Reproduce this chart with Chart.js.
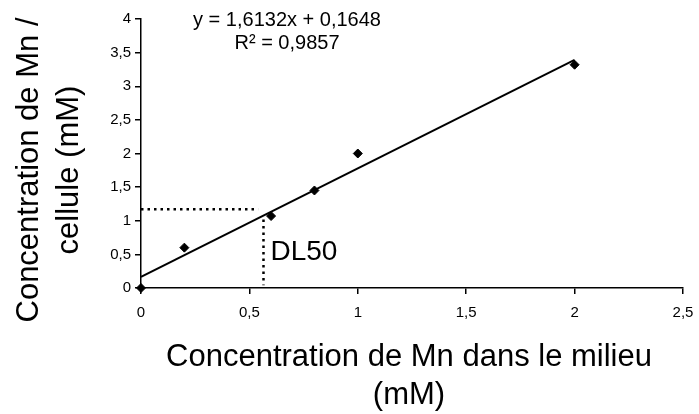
<!DOCTYPE html>
<html>
<head>
<meta charset="utf-8">
<script src="https://cdn.jsdelivr.net/npm/chart.js@4/dist/chart.umd.min.js"></script>
<style>
  body { margin: 0; background: #fff; }
  canvas { display: block; }
</style>
</head>
<body>
<canvas id="myChart" width="699" height="414"></canvas>
<script>
// measured points
let mnMedium = [0, 0.2, 0.6, 0.8, 1, 2];
let mnCell = [0, 0.6, 1.07, 1.45, 2.0, 3.32];

// trend line y = 1,6132x + 0,1648 (ends at x = 2)
let trendX = [0, 2];
let trendY = [0.1648, 3.3912];

// DL50 guide lines
let dl50X = [0, 0.54];
let dl50Y = [1.17, 1.17];
let dl50VX = [0.565, 0.565];
let dl50VY = [1.02, 0.04];

let equationText = "y = 1,6132x + 0,1648";
let r2Text = "R² = 0,9857";
let dl50Text = "DL50";
let xTitle = ["Concentration de Mn dans le milieu", "(mM)"];
let yTitle = ["Concentration de Mn /", "cellule (mM)"];

let font = '"Liberation Sans", Arial, sans-serif';

function pts(xs, ys) {
  return xs.map((v, i) => ({ x: v, y: ys[i] }));
}

function comma(v) {
  return String(v).replace(".", ",");
}

let annotate = {
  id: "annotate",
  afterDraw(chart) {
    let ctx = chart.ctx;
    let x = chart.scales.x;
    ctx.save();
    ctx.fillStyle = "#000";
    ctx.textAlign = "center";
    ctx.textBaseline = "alphabetic";

    ctx.font = "20px " + font;
    ctx.fillText(equationText, 287, 26);
    ctx.fillText(r2Text, 287, 49);

    ctx.textAlign = "left";
    ctx.font = "28px " + font;
    ctx.fillText(dl50Text, x.getPixelForValue(dl50VX[0]) + 7, 260);

    ctx.textAlign = "center";
    ctx.font = "31px " + font;
    let cx = (chart.chartArea.left + chart.chartArea.right) / 2;
    ctx.fillText(xTitle[0], cx - 3, 366);
    ctx.fillText(xTitle[1], cx - 3, 404);

    ctx.translate(0, 170);
    ctx.rotate(-Math.PI / 2);
    ctx.fillText(yTitle[0], 0, 38);
    ctx.fillText(yTitle[1], 0, 78);
    ctx.restore();
  },
};

let axisStyle = {
  type: "linear",
  ticks: {
    stepSize: 0.5,
    color: "#000",
    font: { family: font, size: 15 },
    callback: (v) => comma(v),
  },
  grid: {
    drawOnChartArea: false,
    drawTicks: true,
    tickLength: 6,
    color: "#000",
    lineWidth: 1.5,
  },
  border: { display: true, color: "#000", width: 1.5 },
};

let chart = new Chart(document.getElementById("myChart"), {
  type: "scatter",
  data: {
    datasets: [
      {
        data: pts(trendX, trendY),
        showLine: true,
        borderColor: "#000",
        borderWidth: 2,
        pointRadius: 0,
      },
      {
        data: pts(dl50X, dl50Y),
        showLine: true,
        borderColor: "#000",
        borderWidth: 2.5,
        borderDash: [2.5, 4],
        pointRadius: 0,
      },
      {
        data: pts(dl50VX, dl50VY),
        showLine: true,
        borderColor: "#000",
        borderWidth: 2.5,
        borderDash: [2.5, 4],
        pointRadius: 0,
      },
      {
        data: pts(mnMedium, mnCell),
        showLine: false,
        pointStyle: "rectRot",
        pointRadius: 4.5,
        backgroundColor: "#000",
        borderColor: "#000",
        clip: false,
      },
    ],
  },
  options: {
    responsive: false,
    animation: false,
    devicePixelRatio: 1,
    layout: { padding: { left: 0, right: 16, top: 19, bottom: 0 } },
    plugins: { legend: { display: false }, tooltip: { enabled: false } },
    scales: {
      x: {
        ...axisStyle,
        min: 0,
        max: 2.5,
        ticks: { ...axisStyle.ticks, padding: 10 },
        afterFit: (s) => {
          s.height = 126;
          s.paddingLeft = 0;
          s.paddingRight = 0;
        },
      },
      y: {
        ...axisStyle,
        min: 0,
        max: 4,
        ticks: { ...axisStyle.ticks, padding: 4 },
        afterFit: (s) => {
          s.width = 141;
          s.paddingTop = 0;
          s.paddingBottom = 0;
        },
      },
    },
  },
  plugins: [annotate],
});
</script>
</body>
</html>
